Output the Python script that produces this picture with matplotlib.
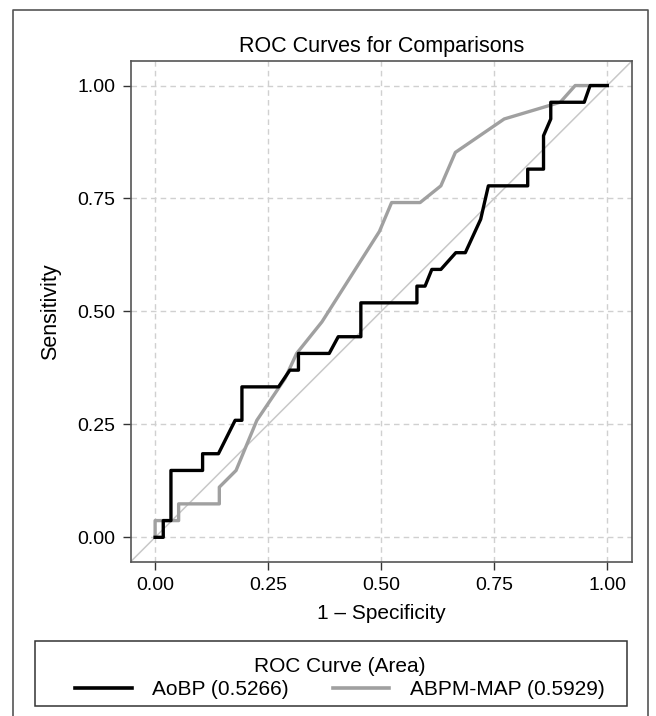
import matplotlib
matplotlib.use("Agg")
import matplotlib.pyplot as plt
from matplotlib.lines import Line2D
from matplotlib.patches import Rectangle

plt.rcParams['font.family'] = ['Liberation Sans', 'DejaVu Sans']

# ROC curve points (1 - specificity, sensitivity)
aobp_fpr = [0.0, 0.018, 0.018, 0.035, 0.035, 0.105, 0.105, 0.140, 0.177, 0.192,
            0.192, 0.273, 0.298, 0.317, 0.317, 0.385, 0.405, 0.455, 0.455, 0.579,
            0.579, 0.597, 0.612, 0.632, 0.665, 0.686, 0.720, 0.737, 0.824, 0.824,
            0.859, 0.859, 0.875, 0.875, 0.949, 0.962, 1.0]
aobp_tpr = [0.0, 0.0, 0.037, 0.037, 0.148, 0.148, 0.185, 0.185, 0.259, 0.259,
            0.333, 0.333, 0.370, 0.370, 0.407, 0.407, 0.444, 0.444, 0.519, 0.519,
            0.556, 0.556, 0.593, 0.593, 0.630, 0.630, 0.704, 0.778, 0.778, 0.815,
            0.815, 0.889, 0.926, 0.963, 0.963, 1.0, 1.0]

abpm_fpr = [0.0, 0.0, 0.052, 0.052, 0.142, 0.142, 0.179, 0.225, 0.287, 0.313,
            0.369, 0.496, 0.523, 0.586, 0.632, 0.664, 0.772, 0.896, 0.929, 1.0]
abpm_tpr = [0.0, 0.037, 0.037, 0.074, 0.074, 0.111, 0.148, 0.259, 0.351, 0.407,
            0.477, 0.677, 0.741, 0.741, 0.778, 0.852, 0.926, 0.963, 1.0, 1.0]

labels = ["AoBP (0.5266)", "ABPM-MAP (0.5929)"]
colors = ["black", "#a0a0a0"]
ticks = [0.0, 0.25, 0.5, 0.75, 1.0]
tick_labels = ["0.00", "0.25", "0.50", "0.75", "1.00"]

W, H = 656, 716
fig = plt.figure(figsize=(W / 100, H / 100), dpi=100)
ax = fig.add_axes([130.7 / W, 1 - 561.7 / H, 501 / W, 501 / H])

# grid + reference diagonal
for t in ticks:
    ax.axvline(t, color="#d0d0d0", lw=1, ls=(0, (4, 3)), zorder=0)
    ax.axhline(t, color="#d0d0d0", lw=1, ls=(0, (4, 3)), zorder=0)
ax.plot([-0.1, 1.1], [-0.1, 1.1], color="#c8c8c8", lw=1.1, zorder=1)

ax.plot(abpm_fpr, abpm_tpr, color=colors[1], lw=2.4, zorder=2)
ax.plot(aobp_fpr, aobp_tpr, color=colors[0], lw=2.4, zorder=3)

ax.set_xlim(-0.054, 1.054)
ax.set_ylim(-0.054, 1.055)
ax.set_xticks(ticks)
ax.set_yticks(ticks)
ax.set_xticklabels(tick_labels)
ax.set_yticklabels(tick_labels)
ax.tick_params(direction="out", length=6, width=1, color="#333333",
               labelsize=14, pad=5)
for s in ax.spines.values():
    s.set_color("#555555")
    s.set_linewidth(1.2)

ax.set_xlabel("1 \u2013 Specificity", fontsize=15, labelpad=7)
ax.set_ylabel("Sensitivity", fontsize=15.5, labelpad=12)
ax.set_title("ROC Curves for Comparisons", fontsize=15.5, pad=6)

# outer frame (open at the bottom)
fx = lambda p: p / W
fy = lambda p: 1 - p / H
fig.add_artist(Line2D([fx(12.5), fx(12.5), fx(648), fx(648)],
                      [0, fy(10), fy(10), 0], color="#555555", lw=1.2))

# legend box
fig.add_artist(Rectangle((fx(35), fy(706)), (627 - 35) / W, (706 - 641) / H,
                         fill=False, edgecolor="#333333", lw=1.1))
handles = [Line2D([], [], color=c, lw=2.6) for c in colors]
fig.legend(handles, labels, ncol=2, title="ROC Curve (Area)",
           loc="center", bbox_to_anchor=(fx(340), fy(678)), frameon=False,
           fontsize=15, title_fontsize=15, handlelength=2.7,
           columnspacing=2.1, handletextpad=1.0, labelspacing=0.2,
           borderpad=0.1)

fig.savefig("out.png", dpi=100)
